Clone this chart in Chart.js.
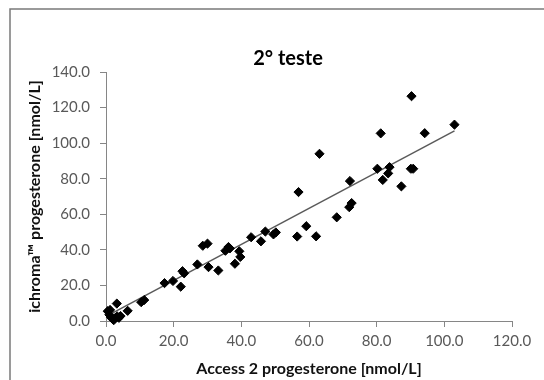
<!DOCTYPE html>
<html>
<head>
  <meta charset="utf-8" />
  <title>2° teste</title>
  <script src="https://cdn.jsdelivr.net/npm/chart.js@4.4.1/dist/chart.umd.min.js"></script>
  <style>
    body { margin: 0; background: #fff; }
    #wrap { width: 544px; height: 380px; }
  </style>
</head>
<body>
  <div id="wrap">
    <canvas id="scatterChart" width="544" height="380"></canvas>
  </div>

  <script>
    // Values (Access 2 vs ichroma, nmol/L)
    const accessX = [
      0.5, 1.0, 1.2, 1.5, 2.0, 2.3, 2.8, 3.3, 3.8, 4.3,
      3.2, 6.4, 10.4, 11.3, 17.3, 19.8, 22.1, 22.6, 23.1, 27.0,
      28.6, 30.0, 30.3, 33.2, 35.3, 36.2, 36.6, 38.1, 39.4, 39.7,
      42.9, 45.8, 47.1, 49.5, 50.2, 56.5, 56.9, 59.2, 62.1, 63.1,
      68.2, 71.9, 72.6, 72.1, 80.2, 81.2, 81.8, 83.4, 83.8, 87.3,
      90.1, 90.8, 90.3, 94.2, 103.0
    ];
    const ichromaY = [
      5.5, 3.5, 6.2, 2.0, 1.0, 0.5, 1.8, 2.6, 1.8, 2.8,
      9.8, 5.7, 10.6, 11.8, 21.3, 22.5, 19.3, 28.0, 26.8, 31.8,
      42.3, 43.5, 30.3, 28.4, 39.5, 41.6, 40.8, 32.2, 39.2, 36.0,
      47.1, 44.8, 50.3, 48.7, 49.8, 47.5, 72.5, 53.3, 47.6, 94.0,
      58.3, 64.0, 66.3, 78.7, 85.6, 105.5, 79.3, 83.0, 86.5, 75.7,
      85.6, 85.6, 126.4, 105.6, 110.4
    ];

    // Linear trendline end points
    const trendX = [2.0, 103.0];
    const trendY = [4.6, 106.9];

    const xTicks = [0, 20, 40, 60, 80, 100, 120];
    const yTicks = [0, 20, 40, 60, 80, 100, 120, 140];

    const points = accessX.map((x, i) => ({ x: x, y: ichromaY[i] }));
    const trend = trendX.map((x, i) => ({ x: x, y: trendY[i] }));

    // white background, the outer chart frame and the title
    const framePlugin = {
      id: 'frame',
      beforeDraw(chart) {
        const ctx = chart.ctx;
        ctx.save();
        ctx.fillStyle = '#fff';
        ctx.fillRect(0, 0, chart.width, chart.height);
        ctx.strokeStyle = '#7a7a7a';
        ctx.lineWidth = 1.5;
        ctx.beginPath();
        ctx.moveTo(10, chart.height + 2);
        ctx.lineTo(10, 9);
        ctx.lineTo(chart.width + 2, 9);
        ctx.stroke();
        ctx.restore();
      },
      afterDraw(chart) {
        const ctx = chart.ctx;
        ctx.save();
        ctx.font = 'bold 20px Lato';
        ctx.fillStyle = '#000';
        ctx.textAlign = 'center';
        ctx.textBaseline = 'middle';
        ctx.fillText('2° teste', 288, 59);
        ctx.restore();
      }
    };

    const axisGray = '#868686';
    const tickFont = { family: 'Lato', size: 15 };
    const titleFont = { family: 'Lato', size: 16, weight: 'bold' };

    new Chart(document.getElementById('scatterChart'), {
      type: 'scatter',
      data: {
        datasets: [
          {
            label: 'ichroma',
            data: points,
            pointStyle: 'rectRot',
            pointRadius: 4.6,
            pointHoverRadius: 4.6,
            backgroundColor: '#000',
            borderColor: '#000',
            borderWidth: 1,
            clip: false,
            order: 1
          },
          {
            label: 'trend',
            type: 'line',
            data: trend,
            borderColor: '#5a5a5a',
            borderWidth: 1.5,
            pointRadius: 0,
            fill: false,
            order: 2
          }
        ]
      },
      options: {
        responsive: false,
        animation: false,
        layout: { padding: { top: 72, right: 32, left: 0, bottom: 0 } },
        plugins: {
          legend: { display: false },
          tooltip: { enabled: false }
        },
        scales: {
          x: {
            type: 'linear',
            min: 0,
            max: 120,
            afterFit: (scale) => { scale.height = 59; },
            afterBuildTicks: (scale) => { scale.ticks = xTicks.map(v => ({ value: v })); },
            border: { color: axisGray, width: 1 },
            grid: { drawOnChartArea: false, drawTicks: true, tickLength: 6, color: axisGray },
            ticks: {
              color: '#595959',
              font: tickFont,
              padding: 5,
              maxRotation: 0,
              callback: (v) => v.toFixed(1)
            },
            title: {
              display: true,
              text: 'Access 2 progesterone [nmol/L]',
              color: '#111',
              font: titleFont,
              padding: { top: 0, bottom: 2 }
            }
          },
          y: {
            type: 'linear',
            min: 0,
            max: 140,
            afterFit: (scale) => { scale.width = 106; },
            afterBuildTicks: (scale) => { scale.ticks = yTicks.map(v => ({ value: v })); },
            border: { color: axisGray, width: 1 },
            grid: { drawOnChartArea: false, drawTicks: true, tickLength: 6, color: axisGray },
            ticks: {
              color: '#595959',
              font: tickFont,
              padding: 10,
              callback: (v) => v.toFixed(1)
            },
            title: {
              display: true,
              text: 'ichroma™ progesterone [nmol/L]',
              color: '#111',
              font: titleFont,
              padding: { top: 25, bottom: 0 }
            }
          }
        }
      },
      plugins: [framePlugin]
    });
  </script>
</body>
</html>
